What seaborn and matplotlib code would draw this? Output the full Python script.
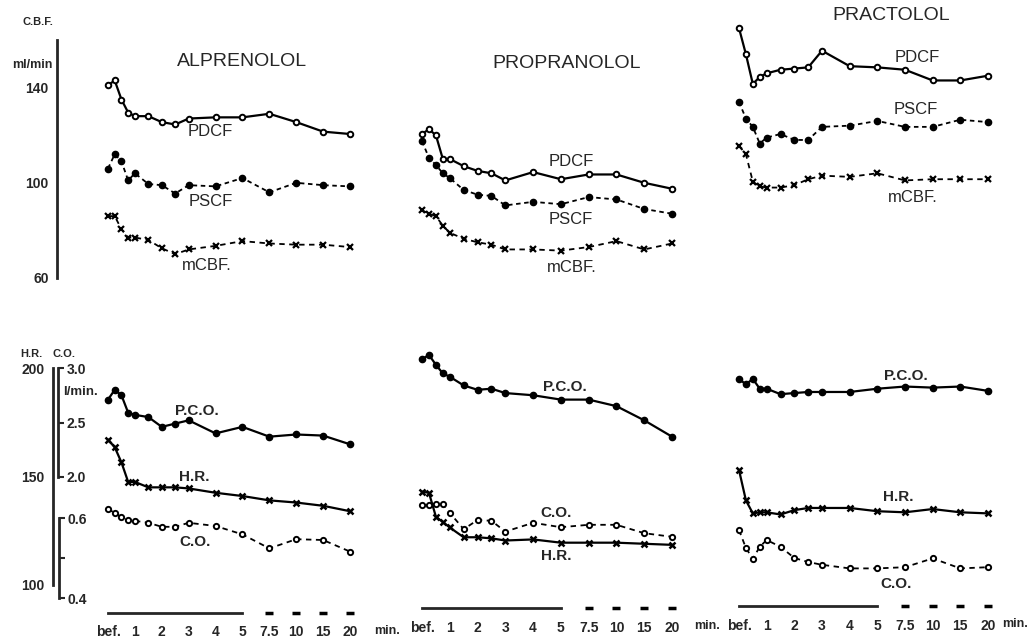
import matplotlib
matplotlib.use("Agg")
import matplotlib.pyplot as plt
import seaborn as sns

# time points on the broken x axis:
# bef., 0.25, 0.5, 0.75, 1, 1.5, 2, 2.5, 3, 4, 5, 7.5, 10, 15, 20 min
TIME_POS = [0, 0.25, 0.5, 0.75, 1, 1.5, 2, 2.5, 3, 4, 5, 6, 7, 8, 9]
TICK_POS = [0, 1, 2, 3, 4, 5, 6, 7, 8, 9]
TICK_LABELS = ["bef.", "1", "2", "3", "4", "5", "7.5", "10", "15", "20"]
DRUGS = ["ALPRENOLOL", "PROPRANOLOL", "PRACTOLOL"]

# C.B.F. (ml/min)
ALP_PDCF = [141, 143, 135, 129.5, 128, 128, 125.5, 124.5, 127, 127.5, 127.5, 129, 125.5, 121.5, 120.5]
ALP_PSCF = [106, 112, 109, 101, 104, 99.5, 99, 95.5, 99, 98.5, 102, 96, 100, 99, 98.5]
ALP_MCBF = [86, 86, 80.5, 77, 77, 76, 72.5, 70, 72, 73.5, 75.5, 74.5, 74, 74, 73]
PRO_PDCF = [120.5, 122.5, 120, 110, 110, 107, 105, 104, 101, 104.5, 101.5, 103.5, 103.5, 100, 97.5]
PRO_PSCF = [117.5, 110.5, 107.5, 104, 102, 97, 95, 94.5, 90.5, 92, 91, 94, 93, 89, 87]
PRO_MCBF = [88.5, 87, 86, 82, 79, 76.5, 75, 74, 72, 72, 71.5, 73, 75.5, 72, 74.5]
PRA_PDCF = [165, 154, 141.5, 144.5, 146, 147.5, 148, 148.5, 155.5, 149, 148.5, 147.5, 143, 143, 145]
PRA_PSCF = [134, 127, 123.5, 116.5, 119, 120.5, 118, 118, 123.5, 124, 126, 123.5, 123.5, 126.5, 125.5]
PRA_MCBF = [115.5, 112, 100.5, 98.5, 98, 98, 99, 101.5, 103, 102.5, 104, 101, 101.5, 101.5, 101.5]

# P.C.O. (l/min, 2.0-3.0 scale)
ALP_PCO = [2.71, 2.80, 2.75, 2.59, 2.57, 2.55, 2.46, 2.49, 2.52, 2.40, 2.46, 2.37, 2.39, 2.38, 2.30]
PRO_PCO = [3.08, 3.12, 3.03, 2.95, 2.92, 2.84, 2.80, 2.81, 2.77, 2.75, 2.71, 2.71, 2.65, 2.52, 2.37]
PRA_PCO = [2.90, 2.85, 2.90, 2.81, 2.81, 2.76, 2.77, 2.78, 2.78, 2.78, 2.81, 2.83, 2.82, 2.83, 2.79]

# H.R. (beats/min)
ALP_HR = [167, 163.5, 156.5, 147.5, 147.5, 145, 145, 145, 144.5, 142.5, 141, 139, 138, 136.5, 134]
PRO_HR = [143, 142.5, 131.5, 129, 126.5, 122, 122, 121.5, 120.5, 121, 119.5, 119.5, 119.5, 119, 118.5]
PRA_HR = [153, 139, 133, 133.5, 133.5, 132.5, 134.5, 135.5, 135.5, 135.5, 134, 133.5, 135, 133.5, 133]

# C.O. (l/min, 0.4-0.6 scale)
ALP_CO = [0.622, 0.613, 0.602, 0.595, 0.593, 0.588, 0.578, 0.578, 0.588, 0.580, 0.559, 0.524, 0.547, 0.545, 0.516]
PRO_CO = [0.632, 0.632, 0.635, 0.635, 0.613, 0.572, 0.595, 0.593, 0.566, 0.588, 0.577, 0.583, 0.583, 0.562, 0.553]
PRA_CO = [0.570, 0.525, 0.498, 0.528, 0.545, 0.528, 0.500, 0.490, 0.483, 0.474, 0.474, 0.477, 0.499, 0.474, 0.477]

sns.set_style("white")
plt.rcParams["font.family"] = ["Liberation Sans", "DejaVu Sans"]

W, H = 1033, 641
fig = plt.figure(figsize=(W / 100, H / 100), dpi=100)


def px_axes(x0, y0, x1, y1):
    # axes placed in pixel coords, y measured from the top
    return fig.add_axes([x0 / W, 1 - y1 / H, (x1 - x0) / W, (y1 - y0) / H])


def px_text(x, y, s, size=12, weight="normal", **kw):
    fig.text(x / W, 1 - y / H, s, ha=kw.pop("ha", "center"), va="center",
             fontsize=size, fontweight=weight, **kw)


STYLE_PDCF = dict(marker="o", markersize=4, mfc="white", mec="black", mew=1.4, linestyle="-", linewidth=1.6)
STYLE_PSCF = dict(marker="o", markersize=4.5, mfc="black", mec="black", mew=1, linestyle=(0, (2.5, 2)), linewidth=1.3)
STYLE_MCBF = dict(marker="x", markersize=4.5, mec="black", mew=1.6, linestyle=(0, (3, 2.5)), linewidth=1.3)
STYLE_PCO = dict(marker="o", markersize=4.5, mfc="black", mec="black", mew=1, linestyle="-", linewidth=1.6)
STYLE_HR = dict(marker="x", markersize=4.5, mec="black", mew=1.8, linestyle="-", linewidth=1.6)
STYLE_CO = dict(marker="o", markersize=3.8, mfc="white", mec="black", mew=1.4, linestyle=(0, (3, 2.5)), linewidth=1.3)


def draw(ax, values, style):
    sns.lineplot(x=TIME_POS, y=values, ax=ax, color="black", errorbar=None,
                 legend=False, clip_on=False, **style)


# pos0 pixel, pos9 pixel, x-axis line pixel, "min." pixel
COLS = [(108, 350, 613, 387), (422, 672, 608, 707), (739, 988, 606, 1015)]
DATA = [
    (ALP_PDCF, ALP_PSCF, ALP_MCBF, ALP_PCO, ALP_HR, ALP_CO),
    (PRO_PDCF, PRO_PSCF, PRO_MCBF, PRO_PCO, PRO_HR, PRO_CO),
    (PRA_PDCF, PRA_PSCF, PRA_MCBF, PRA_PCO, PRA_HR, PRA_CO),
]

for (px0, px9, ax_y, min_x), (pdcf, pscf, mcbf, pco, hr, co) in zip(COLS, DATA):
    s = (px9 - px0) / 9
    xl, xr = px0 - 20, px9 + 20
    xlim = (-20 / s, 9 + 20 / s)

    top = px_axes(xl, 40, xr, 278)
    hr_ax = px_axes(xl, 368, xr, 585)
    pco_ax = px_axes(xl, 368, xr, 477)
    co_ax = px_axes(xl, 518, xr, 598)
    for a, lim in [(top, (60, 160)), (hr_ax, (100, 200)), (pco_ax, (2, 3)), (co_ax, (0.4, 0.6))]:
        a.set_xlim(xlim)
        a.set_ylim(lim)
        a.set_axis_off()

    draw(top, pdcf, STYLE_PDCF)
    draw(top, pscf, STYLE_PSCF)
    draw(top, mcbf, STYLE_MCBF)
    draw(pco_ax, pco, STYLE_PCO)
    draw(hr_ax, hr, STYLE_HR)
    draw(co_ax, co, STYLE_CO)

    # broken time axis
    xa = px_axes(xl, ax_y - 10, xr, ax_y)
    xa.set_facecolor("none")
    xa.set_xlim(xlim)
    xa.set_ylim(0, 1)
    for side in ["top", "left", "right"]:
        xa.spines[side].set_visible(False)
    xa.spines["bottom"].set_bounds(0, 5)
    xa.spines["bottom"].set_linewidth(2)
    xa.set_yticks([])
    xa.set_xticks(TICK_POS)
    xa.set_xticklabels(TICK_LABELS, fontsize=10, fontweight="bold")
    xa.tick_params(axis="x", direction="out", length=3, width=1.5, pad=6)
    xa.plot(TICK_POS[6:], [0] * len(TICK_POS[6:]), ls="none", marker="_",
            ms=5.5, mew=2.5, color="black", clip_on=False)
    px_text(min_x, ax_y + 18, "min.", size=9, weight="bold")

# y scales (left column only)
cbf_sc = px_axes(57, 40, 58, 278)
hr_sc = px_axes(53, 368, 54, 585)
pco_sc = px_axes(57, 368, 58, 477)
co_sc = px_axes(58, 518, 59, 598)
scales = [
    (cbf_sc, (60, 160), [60, 80, 100, 120, 140, 160], ["60", "", "100", "", "140", ""], "left"),
    (hr_sc, (100, 200), [100, 150, 200], ["100", "150", "200"], "left"),
    (pco_sc, (2, 3), [2, 2.5, 3], ["2.0", "2.5", "3.0"], "right"),
    (co_sc, (0.4, 0.6), [0.4, 0.5, 0.6], ["0.4", "", "0.6"], "right"),
]
for a, lim, ticks, labels, side in scales:
    a.set_facecolor("none")
    a.set_ylim(lim)
    a.set_xticks([])
    for sp in a.spines.values():
        sp.set_visible(False)
    a.spines[side].set_visible(True)
    a.spines[side].set_linewidth(2)
    if side == "right":
        a.yaxis.tick_right()
    a.set_yticks(ticks)
    a.set_yticklabels(labels, fontsize=10, fontweight="bold")
    a.tick_params(axis="y", direction="out", length=4, width=1.5, pad=2)

# axis captions
px_text(38, 22, "C.B.F.", size=8, weight="bold")
px_text(32, 65, "ml/min", size=9, weight="bold")
px_text(31, 354, "H.R.", size=8, weight="bold")
px_text(64, 354, "C.O.", size=8, weight="bold")
px_text(80, 392, "l/min.", size=9.5, weight="bold")

# drug titles
for name, (x, y) in zip(DRUGS, [(242, 62), (567, 63), (891, 15)]):
    px_text(x, y, name, size=14)

# series labels
for x, y, s in [(210, 131, "PDCF"), (211, 202, "PSCF"), (207, 266, "mCBF."),
                (571, 162, "PDCF"), (571, 219, "PSCF"), (572, 267, "mCBF."),
                (917, 58, "PDCF"), (916, 109, "PSCF"), (913, 197, "mCBF.")]:
    px_text(x, y, s, size=12)
for x, y, s in [(197, 411, "P.C.O."), (194, 477, "H.R."), (195, 542, "C.O."),
                (565, 387, "P.C.O."), (556, 513, "C.O."), (556, 556, "H.R."),
                (906, 376, "P.C.O."), (898, 497, "H.R."), (896, 584, "C.O.")]:
    px_text(x, y, s, size=11, weight="bold")

fig.savefig("out.png", dpi=100)
